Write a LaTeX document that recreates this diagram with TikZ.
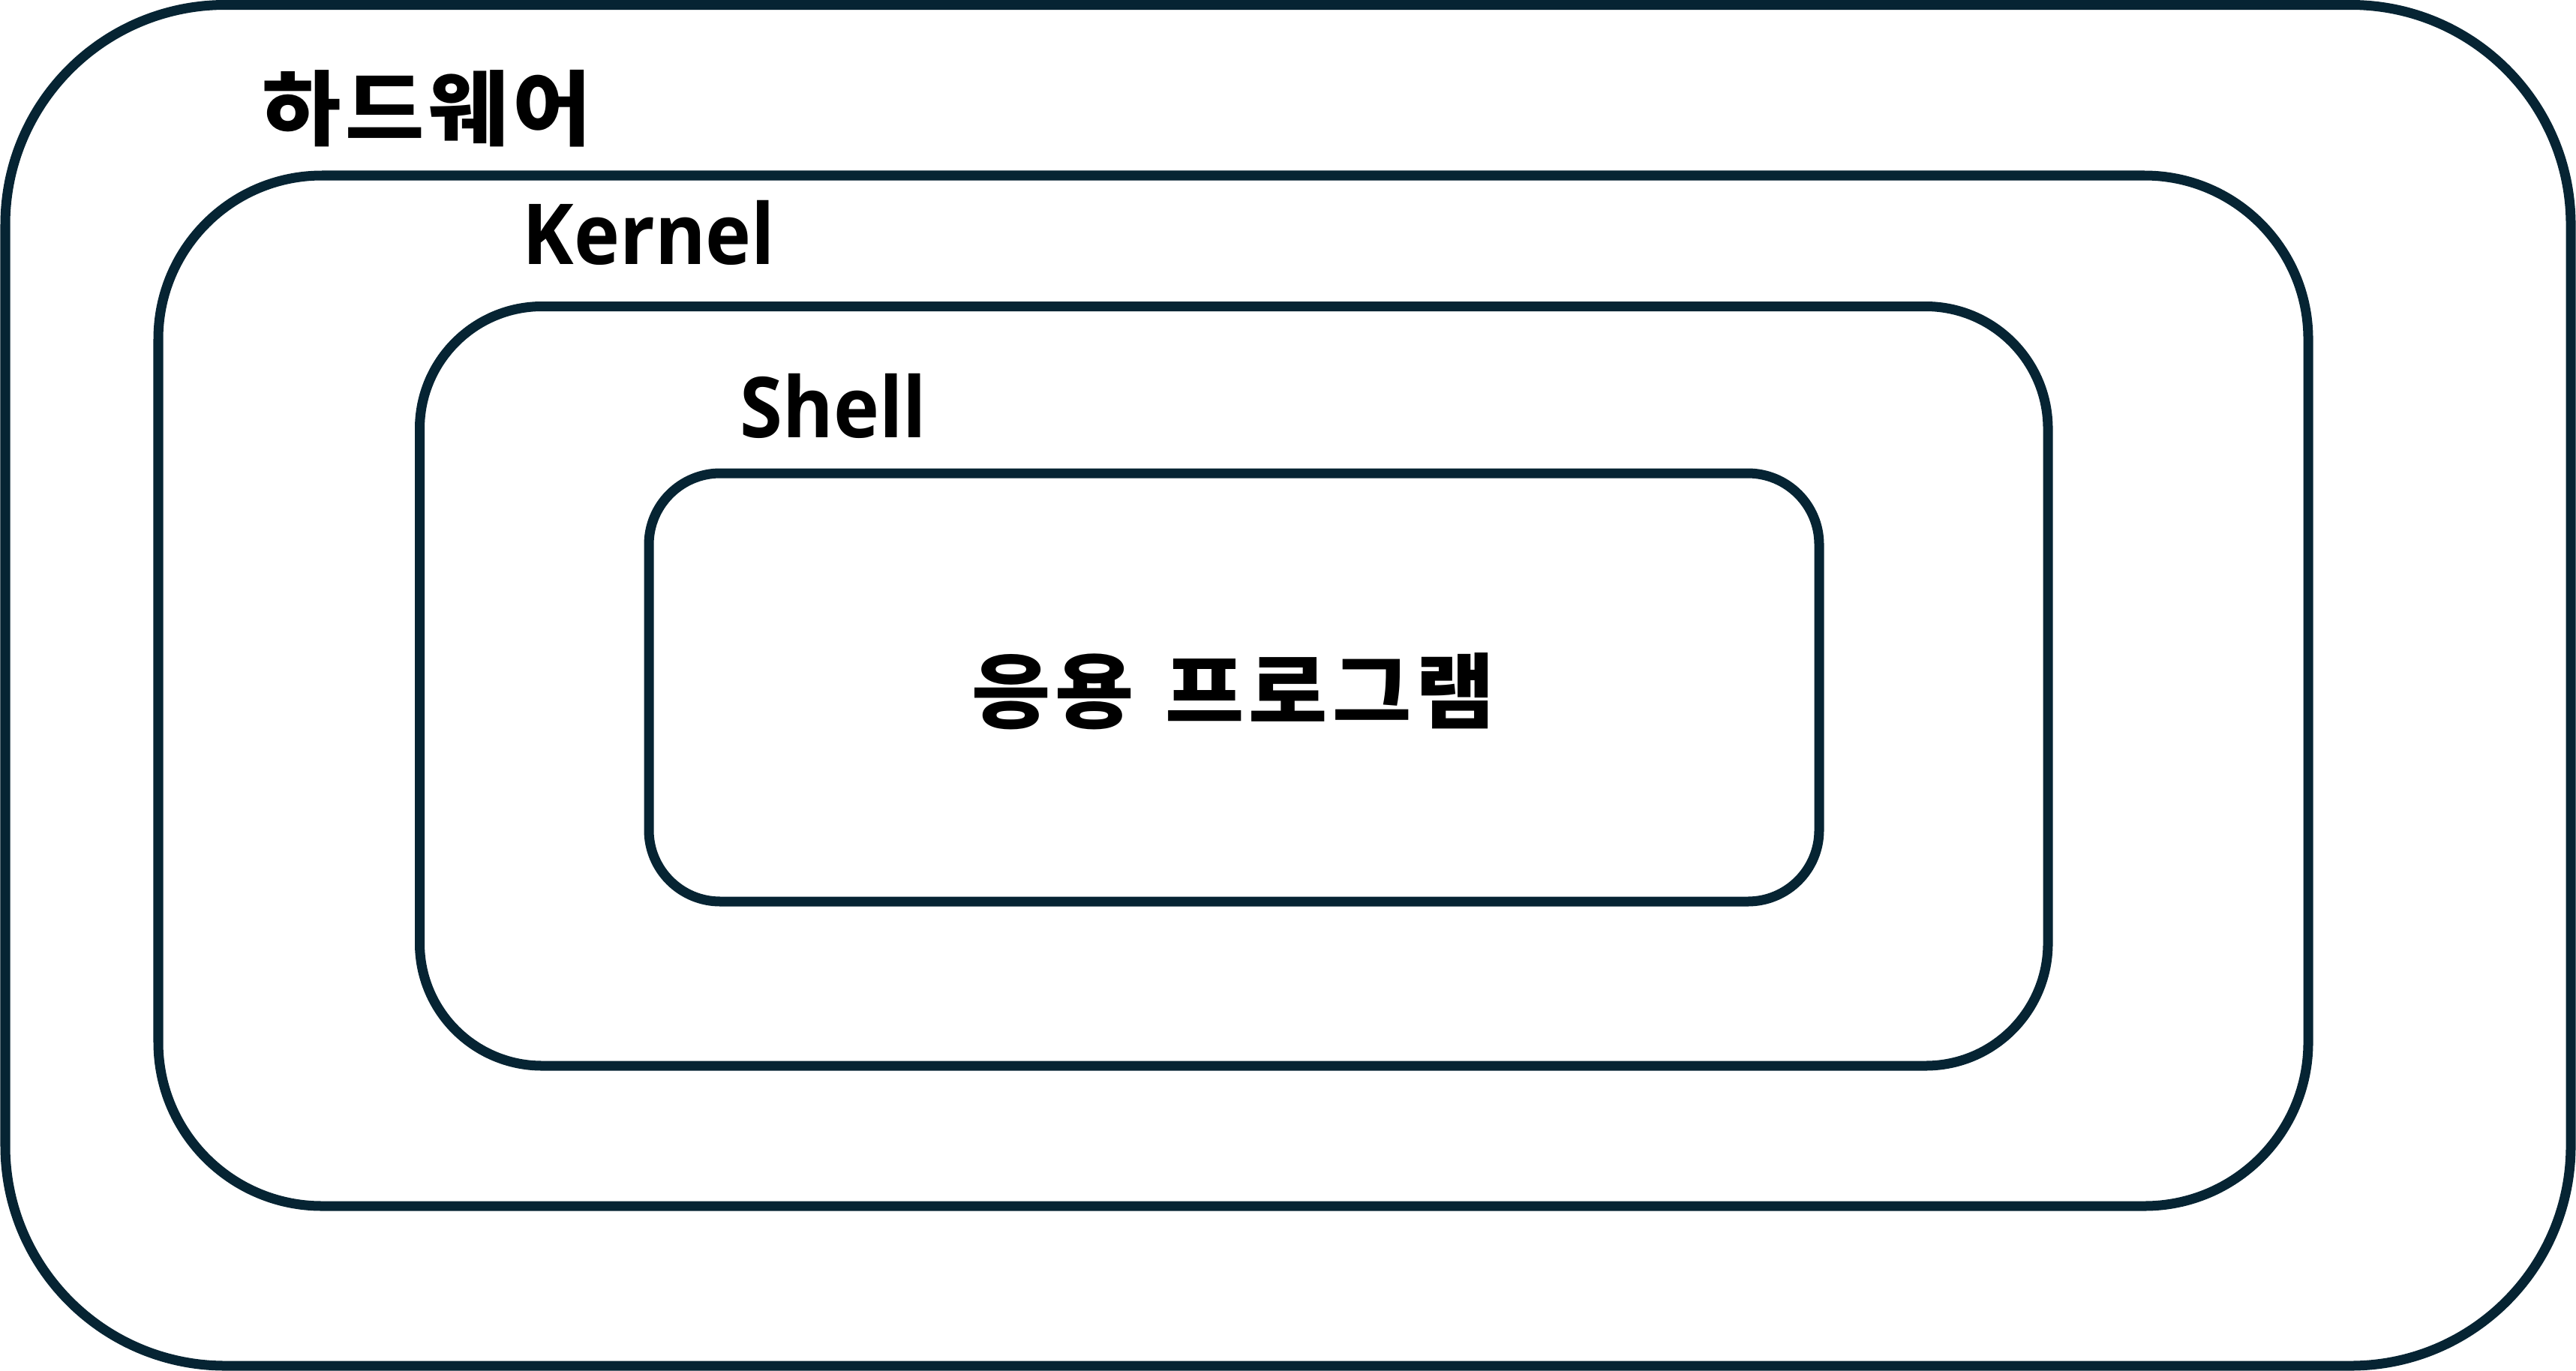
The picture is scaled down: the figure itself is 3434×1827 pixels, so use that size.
\documentclass[tikz,border=0pt]{standalone}
\usepackage{fontspec}
\setmainfont{Noto Sans CJK KR}
\newfontfamily\hangulfont{Noto Sans CJK KR}[FakeStretch=1.05, LetterSpace=5.5, WordSpace=1.3]
\newfontfamily\latinfont{Open Sans}[FakeStretch=0.92]
\usepackage{xcolor}
\definecolor{layerline}{HTML}{062433}

\tikzset{
  layer/.style={draw=layerline, line width=0.13cm},
  layername/.style={inner sep=0pt, font=\fontsize{31}{31}\selectfont\hangulfont\bfseries},
  layernamelat/.style={inner sep=0pt, font=\fontsize{31.9}{32}\selectfont\latinfont\bfseries},
}

\begin{document}
\begin{tikzpicture}[x=0.01cm, y=-0.01cm]
    \useasboundingbox (0, 0) rectangle (3434, 1827);

    % layers, from the outside in
    \draw[layer, rounded corners=2.93cm] (7, 6.5) rectangle (3427, 1821);
    \draw[layer, rounded corners=2.18cm] (211, 234) rectangle (3077, 1608);
    \draw[layer, rounded corners=1.63cm] (559.5, 408.5) rectangle (2730, 1421);
    \draw[layer, rounded corners=0.95cm] (865, 631) rectangle (2425, 1202);

    % names
    \node[layername] (hw) at (569, 144.5) {하드웨어};
    \node[layernamelat] (kernel) at (865, 310) {Kernel};
    \node[layernamelat] (shell) at (1111, 541) {Shell};
    \node[layername] (app) at (1644, 922) {응용 프로그램};
\end{tikzpicture}
\end{document}
